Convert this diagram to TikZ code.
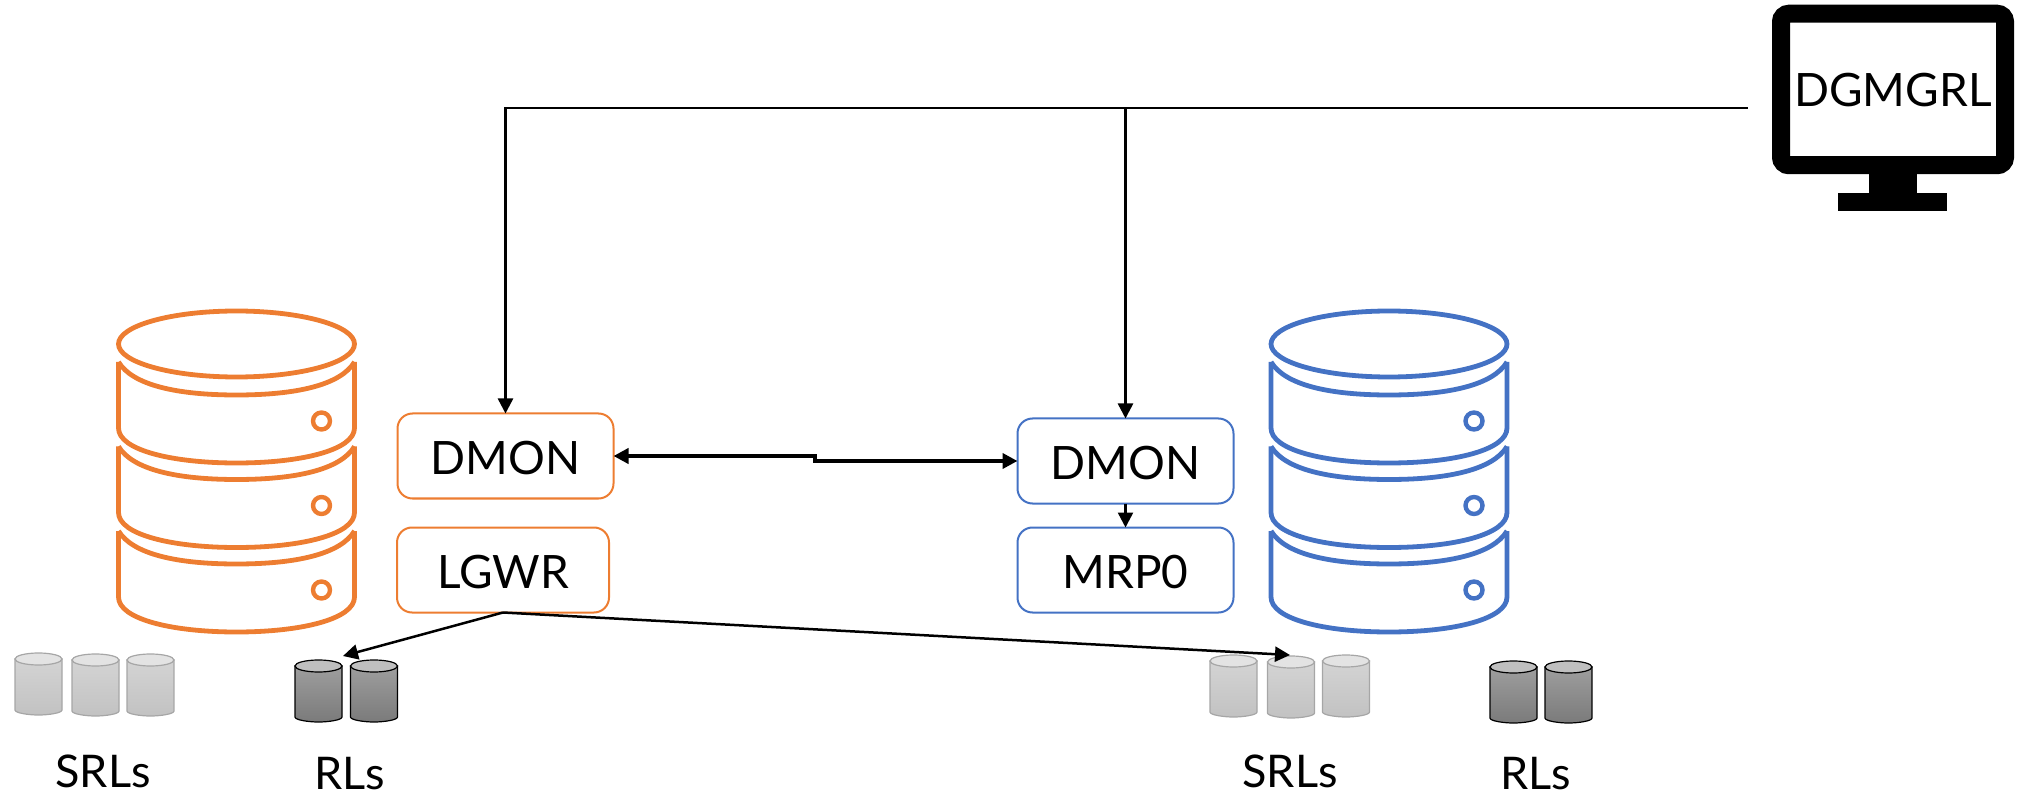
\documentclass[tikz,border=0pt]{standalone}
\usepackage{fontspec}
\setmainfont{Lato}
\usetikzlibrary{arrows.meta}
\definecolor{orangeC}{HTML}{ED7D31}
\definecolor{blueC}{HTML}{4472C4}
\tikzset{
  proc/.style={draw=#1,line width=1pt,rounded corners=7.5pt,minimum width=108pt,minimum height=42.5pt,inner sep=0pt,outer sep=0pt,font=\fontsize{23}{23}\selectfont,text height=18.25pt,text depth=0pt,text=black},
  lbl/.style={inner sep=0pt,outer sep=0pt,font=\fontsize{22.5}{22.5}\selectfont,text height=17.5pt,text depth=0pt},
  conn/.style={draw=black,line width=1.25pt,-{Triangle[length=7.5pt,width=7.5pt]}},
  conndbl/.style={draw=black,line width=2pt,{Triangle[length=7.5pt,width=7.5pt]}-{Triangle[length=7.5pt,width=7.5pt]}},
  monitor/.style={draw=black,line width=9pt,rounded corners=4pt,minimum width=112pt,minimum height=75.75pt,inner sep=0pt,outer sep=0pt,font=\fontsize{23}{23}\selectfont,text height=17.5pt,text depth=0pt},
  dbline/.style={draw=#1,line width=2.4pt},
  srlbody/.style={draw=gray!70,line width=.6pt,top color=black!17,bottom color=black!24},
  srltop/.style={draw=gray!70,line width=.6pt,fill=black!11},
  rlbody/.style={draw=black,line width=.6pt,top color=black!38,bottom color=black!52},
  rltop/.style={draw=black,line width=.6pt,fill=black!25}
}
% centre x, top y, kind
\newcommand\cylshape[3]{%
  \path[#3body] ({#1-23.5},{#2+6}) -- ({#1-23.5},{#2+57})
    .. controls ({#1-23.5},{#2+60}) and ({#1-10},{#2+62}) .. ({#1},{#2+62})
    .. controls ({#1+10},{#2+62}) and ({#1+23.5},{#2+60}) .. ({#1+23.5},{#2+57})
    -- ({#1+23.5},{#2+6}) -- cycle;
  \path[#3top] ({#1},{#2+6}) ellipse [x radius=23.5,y radius=6];
}
% one tier: centre x, y of the top of its sides, colour
\newcommand\tiershape[3]{%
  \draw[dbline=#3] ({#1-118},{#2}) -- ({#1-118},{#2+66})
    .. controls ({#1-118},{#2+88}) and ({#1-65},{#2+101}) .. ({#1},{#2+101})
    .. controls ({#1+65},{#2+101}) and ({#1+118},{#2+88}) .. ({#1+118},{#2+66})
    -- ({#1+118},{#2});
  \draw[dbline=#3] ({#1-118},{#2})
    .. controls ({#1-104},{#2+23}) and ({#1-60},{#2+33}) .. ({#1},{#2+33})
    .. controls ({#1+60},{#2+33}) and ({#1+104},{#2+23}) .. ({#1+118},{#2});
  \draw[dbline=#3,line width=2.2pt] ({#1+85},{#2+59}) circle [radius=8.5];
}
\newcommand\dbstack[2]{%
  \draw[dbline=#2] (#1,344) ellipse [x radius=118,y radius=33];
  \tiershape{#1}{362}{#2}
  \tiershape{#1}{446.5}{#2}
  \tiershape{#1}{531}{#2}
}
\begin{document}
\begin{tikzpicture}[x=0.5pt,y=-0.5pt]
\useasboundingbox (0,0) rectangle (2024,796);
\dbstack{236.5}{orangeC}
\dbstack{1389}{blueC}

\node[proc=orangeC] (dmonA) at (505.5,456) {DMON};
\node[proc=orangeC,minimum width=106pt] (lgwr) at (503,570) {LGWR};
\node[proc=blueC] (dmonB) at (1125.5,461) {DMON};
\node[proc=blueC] (mrp) at (1125.5,570) {MRP0};

\node[monitor] (mon) at (1893,89.5) {DGMGRL};
\fill (1869,174) rectangle (1917,193);
\fill (1838,193) rectangle (1947,211);

\cylshape{38.5}{653}{srl}
\cylshape{95.5}{654}{srl}
\cylshape{150.5}{654}{srl}
\cylshape{318.5}{660}{rl}
\cylshape{374}{660}{rl}
\cylshape{1233.5}{655}{srl}
\cylshape{1291}{656}{srl}
\cylshape{1346}{655}{srl}
\cylshape{1513.5}{661}{rl}
\cylshape{1568.5}{661}{rl}

\node[lbl] (srlA) at (103,770) {SRLs};
\node[lbl] (rlA) at (350,771.5) {RLs};
\node[lbl] (srlB) at (1290,770) {SRLs};
\node[lbl] (rlB) at (1536,772) {RLs};

\coordinate (busEnd) at (1747,108);
\coordinate (busA) at (505.5,108);
\coordinate (busB) at (1125.5,108);
\coordinate (stepA) at (815,456);
\coordinate (stepB) at (815,461);
\coordinate (tipRL) at (343,656);
\coordinate (tipSRL) at (1290,655);

\draw[line width=1.25pt,line cap=rect] (busEnd) -- (busA);
\draw[conn] (busA) -- (dmonA.north);
\draw[conn] (busB) -- (dmonB.north);
\draw[conndbl] (dmonA.east) -- (stepA) -- (stepB) -- (dmonB.west);
\draw[conn] (dmonB.south) -- (mrp.north);
\draw[conn] (lgwr.south) -- (tipRL);
\draw[conn] (lgwr.south) -- (tipSRL);
\end{tikzpicture}
\end{document}
